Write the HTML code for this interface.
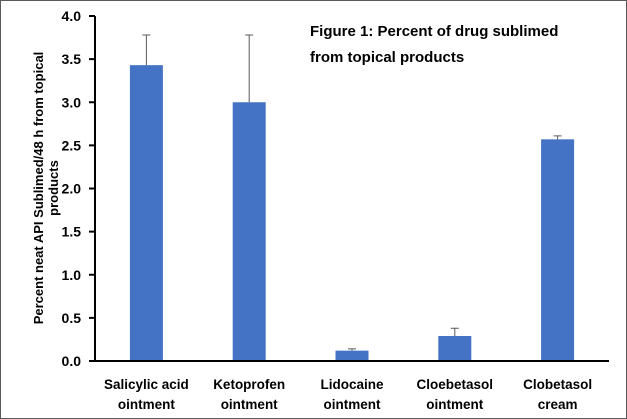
<!DOCTYPE html>
<html><head><style>
body{margin:0;background:#fff;}
svg{display:block;font-family:"Liberation Sans",sans-serif;}
</style></head><body>
<svg id="c" width="627" height="419">
<rect x="0.5" y="0.5" width="626" height="418" fill="#fff" stroke="#595959"/>
<text x="310" y="36" font-size="15" font-weight="bold">Figure 1: Percent of drug sublimed</text>
<text x="310" y="62" font-size="15" font-weight="bold">from topical products</text>
<text transform="translate(43,188) rotate(-90)" text-anchor="middle" font-size="13" font-weight="bold"><tspan x="0" dy="0">Percent neat API Sublimed/48 h from topical</tspan><tspan x="0" dy="15">products</tspan></text>
<g id="g"></g>
</svg>
<script>
const categories=[["Salicylic acid","ointment"],["Ketoprofen","ointment"],["Lidocaine","ointment"],["Cloebetasol","ointment"],["Clobetasol","cream"]];
const values=[3.43,3.0,0.12,0.29,2.57];
const errors=[0.35,0.78,0.02,0.09,0.04];
const ticks=[0,0.5,1.0,1.5,2.0,2.5,3.0,3.5,4.0];
const NS="http://www.w3.org/2000/svg";
const g=document.getElementById('g');
const x0=95,x1=609,y0=361,yTop=16,ymax=4;
const cw=(x1-x0)/categories.length;
const ys=v=>y0-(v/ymax)*(y0-yTop);
const xc=i=>x0+cw*(i+0.5);
function mk(t,a){const e=document.createElementNS(NS,t);for(const k in a)e.setAttribute(k,a[k]);g.appendChild(e);return e;}
ticks.forEach(t=>{
 const l=mk('line',{x1:x0-6,x2:x0,y1:ys(t),y2:ys(t),stroke:'#000','stroke-width':2});
 
 
 const tx=mk('text',{x:x0-14,y:ys(t)+5,'text-anchor':'end','font-size':14,'font-weight':'bold'});
 tx.textContent=t.toFixed(1);
 
 
});
values.forEach((v,i)=>{
 const bw=33;
 const r=mk('rect',{x:xc(i)-bw/2,y:ys(v),width:bw,height:y0-ys(v),fill:'#4472c4'});
 
 
 const e=mk('path',{d:`M${xc(i)},${ys(v)}V${ys(v+errors[i])}M${xc(i)-4},${ys(v+errors[i])}H${xc(i)+4}`,stroke:'#595959','stroke-width':1,fill:'none'});
 
 
 categories[i].forEach((s,j)=>{
  const t=mk('text',{x:xc(i),y:389+j*20,'text-anchor':'middle','font-size':13.5,'font-weight':'bold'});
  t.textContent=s;
  
  
 });
});
const ax=mk('line',{x1:x0,x2:x0,y1:yTop,y2:y0,stroke:'#000','stroke-width':2});


const bx=mk('line',{x1:x0-6,x2:x1,y1:y0,y2:y0,stroke:'#000','stroke-width':2});


</script>
</body></html>
